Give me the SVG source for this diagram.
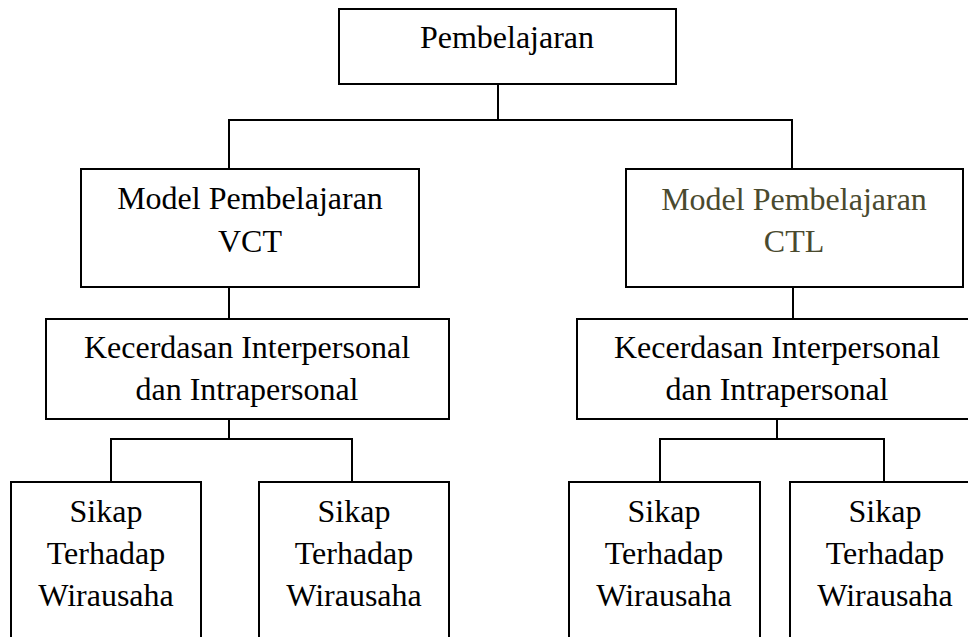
<svg xmlns="http://www.w3.org/2000/svg" width="968" height="637" viewBox="0 0 968 637">
<style>
.box{fill:#fff;stroke:#000;stroke-width:2}
.t{font-family:'Liberation Serif','DejaVu Serif',serif;font-size:32px;fill:#000;text-anchor:middle}
.olive{fill:#4a4a2e}
.conn line{stroke:#000;stroke-width:2}
</style>
<rect width="968" height="637" fill="#fff"/>
<g class="conn">
<line x1="498" y1="84" x2="498" y2="120"/>
<line x1="228" y1="120" x2="793" y2="120"/>
<line x1="229" y1="120" x2="229" y2="169"/>
<line x1="792" y1="120" x2="792" y2="169"/>
<line x1="229" y1="287" x2="229" y2="319"/>
<line x1="793" y1="287" x2="793" y2="319"/>
<line x1="229" y1="419" x2="229" y2="439"/>
<line x1="110" y1="439" x2="353" y2="439"/>
<line x1="111" y1="439" x2="111" y2="482"/>
<line x1="352" y1="439" x2="352" y2="482"/>
<line x1="777" y1="419" x2="777" y2="439"/>
<line x1="659" y1="439" x2="885" y2="439"/>
<line x1="660" y1="439" x2="660" y2="482"/>
<line x1="884" y1="439" x2="884" y2="482"/>
</g>
<g id="pembelajaran">
<rect class="box" x="339" y="9" width="337" height="75"/>
<text class="t" x="507" y="48">Pembelajaran</text>
</g>
<g id="vct">
<rect class="box" x="81" y="169" width="338" height="118"/>
<text class="t" x="250" y="209">Model Pembelajaran</text>
<text class="t" x="250" y="252">VCT</text>
</g>
<g id="ctl">
<rect class="box" x="626" y="169" width="337" height="118"/>
<text class="t olive" x="794" y="210">Model Pembelajaran</text>
<text class="t olive" x="794" y="252">CTL</text>
</g>
<g id="kecerdasan-left">
<rect class="box" x="46" y="319" width="403" height="100"/>
<text class="t" x="247" y="358">Kecerdasan Interpersonal</text>
<text class="t" x="247" y="400">dan Intrapersonal</text>
</g>
<g id="kecerdasan-right">
<rect class="box" x="577" y="319" width="400" height="100"/>
<text class="t" x="777" y="358">Kecerdasan Interpersonal</text>
<text class="t" x="777" y="400">dan Intrapersonal</text>
</g>
<g id="sikap1">
<rect class="box" x="11" y="482" width="190" height="170"/>
<text class="t" x="106" y="522">Sikap</text>
<text class="t" x="106" y="564">Terhadap</text>
<text class="t" x="106" y="606">Wirausaha</text>
</g>
<g id="sikap2">
<rect class="box" x="259" y="482" width="190" height="170"/>
<text class="t" x="354" y="522">Sikap</text>
<text class="t" x="354" y="564">Terhadap</text>
<text class="t" x="354" y="606">Wirausaha</text>
</g>
<g id="sikap3">
<rect class="box" x="569" y="482" width="191" height="170"/>
<text class="t" x="664" y="522">Sikap</text>
<text class="t" x="664" y="564">Terhadap</text>
<text class="t" x="664" y="606">Wirausaha</text>
</g>
<g id="sikap4">
<rect class="box" x="790" y="482" width="190" height="170"/>
<text class="t" x="885" y="522">Sikap</text>
<text class="t" x="885" y="564">Terhadap</text>
<text class="t" x="885" y="606">Wirausaha</text>
</g>
</svg>
